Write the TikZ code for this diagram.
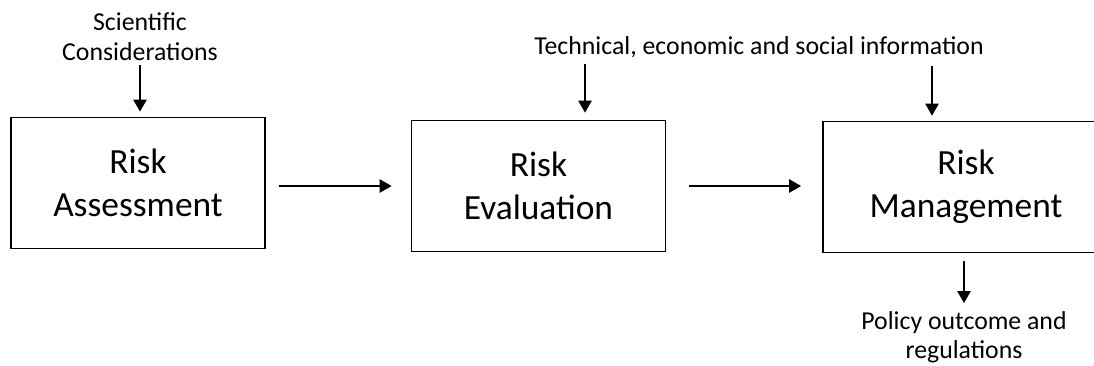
\documentclass[tikz,border=0pt]{standalone}
\usepackage{fontspec}
\setmainfont{Carlito}
\usepackage{tikz}
\usetikzlibrary{arrows.meta}
\usetikzlibrary{positioning}
\tikzset{>={Triangle[length=12pt,width=13pt]}}
\tikzset{
  stage/.style={draw,line width=1.6pt,minimum width=254pt,minimum height=131pt,align=center,
    font=\fontsize{35.4}{43}\selectfont,inner sep=0pt},
  info/.style={align=center,font=\fontsize{25.8}{30}\selectfont,inner sep=0pt},
  flow/.style={->,line width=2.3pt}
}

\begin{document}
\begin{tikzpicture}[x=1pt,y=-1pt]
        \useasboundingbox (0,0) rectangle (1094,365);
        \clip (0,0) rectangle (1094,365);
        % the three stages
        \node[stage] (assess) at (138,183) {Risk\\Assessment};
        \node[stage] (eval) at (538.5,186) {Risk\\Evaluation};
        \node[stage, minimum width=286pt] (manage) at (966,187) {Risk\\Management};

        % inputs and output
        \node[info] (sci) at (140,37) {Scientific\\Considerations};
        \node[info] (tech) at (759,47) {Technical, economic and social information};
        \node[info, font=\fontsize{25.8}{29}\selectfont] (policy) at (964,337) {Policy outcome and\\regulations};
        \coordinate (t1) at (585,64);
        \coordinate (t2) at (932,66);

        \draw[flow, shorten <=4pt, shorten >=5pt] (sci.south) -- (sci.south |- assess.north);
        \draw[flow, shorten >=7pt] (t1) -- (t1 |- eval.north);
        \draw[flow, shorten >=5pt] (t2) -- (t2 |- manage.north);
        \draw[flow, shorten <=13pt, shorten >=19pt] (assess.east |- eval.west) -- (eval.west);
        \draw[flow, shorten <=23pt, shorten >=21pt] (eval.east) -- (eval.east -| manage.west);
        \draw[flow, shorten <=8pt, shorten >=8pt] (manage.south -| policy.north) -- (policy.north);
\end{tikzpicture}
\end{document}
